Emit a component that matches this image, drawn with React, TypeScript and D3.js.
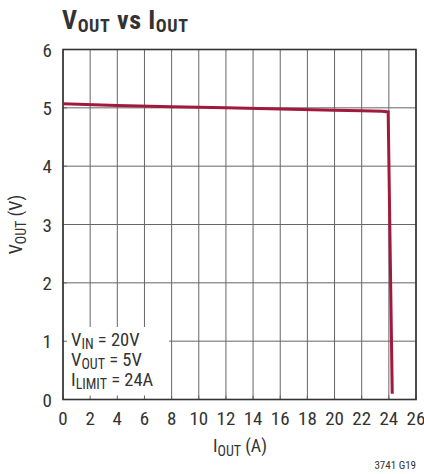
import * as d3 from "d3";

// VOUT vs IOUT
const iout = [0, 4, 8, 12, 16, 20, 22, 23.5, 23.95, 24.25];
const vout = [5.07, 5.04, 5.02, 5.0, 4.98, 4.96, 4.95, 4.94, 4.93, 0.1];
const xTicks = d3.range(0, 27, 2);
const yTicks = [0, 1, 2, 3, 4, 5, 6];
const notes = [
  ["V", "IN", " = 20V"],
  ["V", "OUT", " = 5V"],
  ["I", "LIMIT", " = 24A"],
];

const W = 424;
const H = 474;
const m = { left: 63, right: 416, top: 49.5, bottom: 399.5 };
const font = "'Liberation Sans Narrow', 'Roboto Condensed', 'Arial Narrow', sans-serif";
const ink = "#333";

export default function App() {
  const x = d3.scaleLinear().domain([0, 26]).range([m.left, m.right]);
  const y = d3.scaleLinear().domain([0, 6]).range([m.bottom, m.top]);
  const pts = iout.map((d, i) => [d, vout[i]] as [number, number]);
  const line = d3.line<[number, number]>().x(d => x(d[0])).y(d => y(d[1]));

  return (
    <svg width={W} height={H} style={{ position: "absolute", left: 0, top: 0, background: "#fff" }}>
      <text x={62} y={29} fontFamily={font} fontWeight="bold" fontSize={26} fill={ink} letterSpacing={0.6}>
        V<tspan fontSize={18} dy={3}>OUT</tspan>
        <tspan dy={-3}> vs I</tspan>
        <tspan fontSize={18} dy={3}>OUT</tspan>
      </text>

      {/* grid */}
      {xTicks.map(t => (
        <line key={"gx" + t} x1={x(t)} x2={x(t)} y1={m.top} y2={m.bottom} stroke="#666" strokeWidth={1} />
      ))}
      {yTicks.map(t => (
        <line key={"gy" + t} x1={m.left} x2={m.right} y1={y(t)} y2={y(t)} stroke="#666" strokeWidth={1} />
      ))}

      {/* legend box hides grid */}
      <rect x={m.left + 1} y={327} width={105} height={m.bottom - 328} fill="#fff" />
      {yTicks.map(t => (
        <line key={"ty" + t} x1={m.left} x2={m.left + 4} y1={y(t)} y2={y(t)} stroke="#666" />
      ))}
      {xTicks.map(t => (
        <line key={"tx" + t} x1={x(t)} x2={x(t)} y1={m.bottom} y2={m.bottom - 4} stroke="#666" />
      ))}

      <rect x={m.left} y={m.top} width={m.right - m.left} height={m.bottom - m.top}
        fill="none" stroke={ink} strokeWidth={1.6} />

      <path d={line(pts) || ""} fill="none" stroke="#a3193d" strokeWidth={3} strokeLinejoin="miter" />

      {notes.map((n, i) => (
        <text key={"n" + i} x={71} y={346 + i * 20} fontFamily={font} fontSize={18.5} fill={ink}>
          {n[0]}
          <tspan fontSize={14} dy={3}>{n[1]}</tspan>
          <tspan dy={-3}>{n[2]}</tspan>
        </text>
      ))}

      {yTicks.map(t => (
        <text key={"ly" + t} x={52} y={y(t) + 7} textAnchor="end" fontFamily={font} fontSize={19} fill={ink}>
          {t}
        </text>
      ))}
      {xTicks.map(t => (
        <text key={"lx" + t} x={x(t)} y={425} textAnchor="middle" fontFamily={font} fontSize={19} fill={ink}>
          {t}
        </text>
      ))}

      <text x={240} y={452} textAnchor="middle" fontFamily={font} fontSize={18} fill={ink}>
        I<tspan fontSize={14} dy={4}>OUT</tspan>
        <tspan dy={-4}> (A)</tspan>
      </text>
      <text transform={`translate(22,${(m.top + m.bottom) / 2}) rotate(-90)`} textAnchor="middle"
        fontFamily={font} fontSize={18} fill={ink}>
        V<tspan fontSize={14} dy={4}>OUT</tspan>
        <tspan dy={-4}> (V)</tspan>
      </text>

      <text x={416} y={469} textAnchor="end" fontFamily={font} fontSize={11} fill={ink}>3741 G19</text>
    </svg>
  );
}
